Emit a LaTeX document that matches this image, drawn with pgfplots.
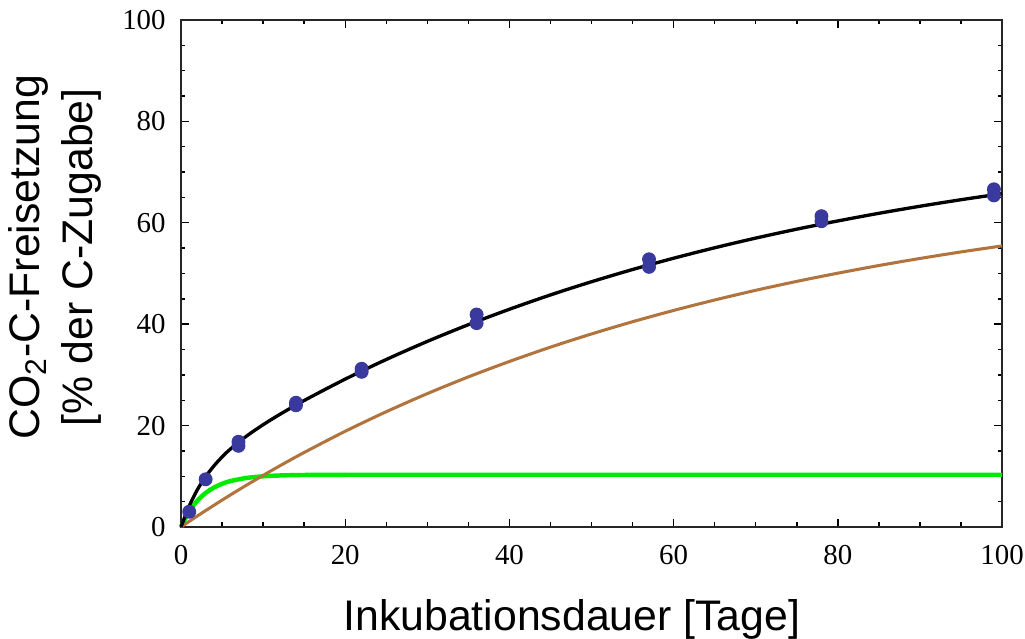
\documentclass[border=0pt]{standalone}
\usepackage{pgfplots}
\pgfplotsset{compat=1.18}
\usepackage{fontspec}
\setmainfont{Liberation Serif}
\newfontfamily\arial{Liberation Sans}

\definecolor{curvebrown}{RGB}{178,116,62}
\definecolor{curvegreen}{RGB}{0,235,0}
\definecolor{dotblue}{RGB}{58,58,158}

% fitted curves (labile pool, stable pool, total)
\pgfplotstableread{
t    green  brown  total
0    0.00   0.00   0.00
1    3.04   1.09   4.13
2    5.19   2.17   7.36
3    6.70   3.22   9.92
4    7.76   4.26   12.02
5    8.51   5.29   13.80
6    9.04   6.30   15.34
8    9.67   8.27   17.94
10   9.99   10.17  20.16
12   10.15  12.02  22.17
15   10.25  14.69  24.94
20   10.29  18.87  29.16
25   10.30  22.73  33.03
30   10.30  26.30  36.60
35   10.30  29.60  39.90
40   10.30  32.64  42.94
45   10.30  35.47  45.77
50   10.30  38.07  48.37
55   10.30  40.48  50.78
60   10.30  42.71  53.01
65   10.30  44.77  55.07
70   10.30  46.68  56.98
75   10.30  48.44  58.74
80   10.30  50.06  60.36
85   10.30  51.57  61.87
90   10.30  52.96  63.26
95   10.30  54.25  64.55
100  10.30  55.44  65.74
}\curves

\pgfplotstableread{
t   y
1   3.0
3   9.4
7   16.0
7   16.8
14  24.0
14  24.5
22  30.6
22  31.2
36  40.2
36  41.9
57  51.3
57  52.8
78  60.3
78  61.3
99  65.4
99  66.6
}\measured

\begin{document}
\begin{tikzpicture}
% page frame as in the original screenshot (the last x label runs off the edge)
\path[use as bounding box] (-65.16pt,-40.32pt) rectangle (303.84pt,189.7pt);
\begin{axis}[
  scale only axis,
  width=295.6pt, height=182.5pt,
  xmin=0, xmax=100, ymin=0, ymax=100,
  xtick={0,20,...,100}, ytick={0,20,...,100},
  minor x tick num=3, minor y tick num=3,
  tick align=inside,
  major tick length=2.8pt, minor tick length=1.6pt,
  tick style={black, line width=0.5pt},
  axis line style={line width=0.6pt, black!85},
  ticklabel style={font=\fontsize{10.4}{12}\selectfont},
  xticklabel style={yshift=-3pt},
  yticklabel style={xshift=-2pt},
  /pgf/number format/assume math mode=true,
  xlabel={Inkubationsdauer [Tage]},
  ylabel={CO\textsubscript{2}-C-Freisetzung\\{[}\% der C-Zugabe]},
  label style={font=\arial\fontsize{15.4}{19}\selectfont},
  xlabel style={at={(axis description cs:0.476,-0.1235)}, anchor=north},
  ylabel style={at={(axis description cs:-0.085,0.532)}, anchor=south, align=center},
  clip=false,
]
\addplot[curvegreen, line width=1.6pt, smooth] table[x=t, y=green] {\curves};
\addplot[curvebrown, line width=1.1pt, smooth] table[x=t, y=brown] {\curves};
\addplot[black, line width=1.2pt, smooth] table[x=t, y=total] {\curves};
\addplot[only marks, mark=*, mark size=2.3pt, color=dotblue] table[x=t, y=y] {\measured};
\end{axis}
\end{tikzpicture}
\end{document}
